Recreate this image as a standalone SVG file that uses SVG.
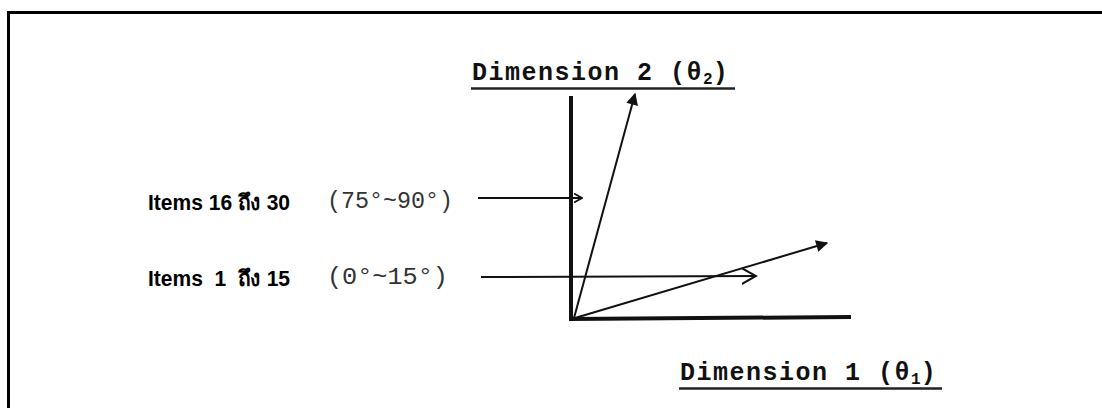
<svg xmlns="http://www.w3.org/2000/svg" width="1102" height="408" viewBox="0 0 1102 408">
<style>
.frame{stroke:#000;stroke-width:3;fill:none}
.axis{stroke:#111;stroke-width:4;fill:none;stroke-linecap:square}
.vec{stroke:#111;stroke-width:2;fill:none}
.dim{font-family:"Liberation Mono","Courier New",monospace;font-weight:bold;font-size:25px;letter-spacing:1.5px;fill:#111}
.sub{font-size:16px;letter-spacing:0}
.ul{stroke:#222;stroke-width:2.5}
.item{font-family:"Liberation Sans",Arial,"Noto Sans","DejaVu Sans",sans-serif;font-weight:bold;font-size:22px;fill:#000}
.rng{font-family:"Liberation Mono","Courier New",monospace;font-size:23px;fill:#333}
</style>
<defs>
<marker id="tri2" viewBox="0 0 10 10" refX="9" refY="5" markerWidth="14" markerHeight="12" markerUnits="userSpaceOnUse" orient="auto">
<path d="M0,0 L10,5 L0,10 Z" fill="#111"/>
</marker>
<marker id="chev" viewBox="0 0 10 10" refX="9" refY="5" markerWidth="16" markerHeight="17" markerUnits="userSpaceOnUse" orient="auto">
<path d="M0,0 L9,5 L0,10" fill="none" stroke="#111" stroke-width="1.3"/>
</marker>
<marker id="chev2" viewBox="0 0 10 10" refX="9" refY="5" markerWidth="9" markerHeight="10" markerUnits="userSpaceOnUse" orient="auto">
<path d="M0,0 L9,5 L0,10" fill="none" stroke="#111" stroke-width="2"/>
</marker>
</defs>
<g id="frame">
<line class="frame" x1="7" y1="12.5" x2="1102" y2="12.5"/>
<line class="frame" x1="8.5" y1="11" x2="8.5" y2="408"/>
</g>
<g id="axes">
<line class="axis" x1="571" y1="98" x2="571" y2="319"/>
<line class="axis" x1="571" y1="319" x2="849" y2="317"/>
</g>
<g id="connectors">
<line class="vec" x1="574" y1="318" x2="635" y2="94" marker-end="url(#tri2)"/>
<line class="vec" x1="575" y1="318" x2="827" y2="243" marker-end="url(#tri2)"/>
<line class="vec" x1="478" y1="198" x2="582" y2="198" marker-end="url(#chev2)"/>
<line class="vec" x1="481" y1="277" x2="756" y2="276" marker-end="url(#chev)"/>
</g>
<g id="dim2">
<text class="dim" x="472" y="80">Dimension 2 (θ<tspan class="sub" dy="4">2</tspan><tspan dy="-4">)</tspan></text>
<line class="ul" x1="471" y1="88.5" x2="735" y2="88.5"/>
</g>
<g id="dim1">
<text class="dim" x="680" y="380">Dimension 1 (θ<tspan class="sub" dy="4">1</tspan><tspan dy="-4">)</tspan></text>
<line class="ul" x1="679" y1="388.5" x2="942" y2="388.5"/>
</g>
<g id="items16">
<text class="item" x="148" y="210" textLength="142" lengthAdjust="spacingAndGlyphs">Items 16 ถึง 30</text>
<text class="rng" x="327" y="208" textLength="126" lengthAdjust="spacingAndGlyphs">(75°~90°)</text>
</g>
<g id="items1">
<text class="item" x="148" y="286" xml:space="preserve" textLength="142" lengthAdjust="spacingAndGlyphs">Items  1  ถึง 15</text>
<text class="rng" x="327" y="284" textLength="121" lengthAdjust="spacingAndGlyphs">(0°~15°)</text>
</g>
</svg>
